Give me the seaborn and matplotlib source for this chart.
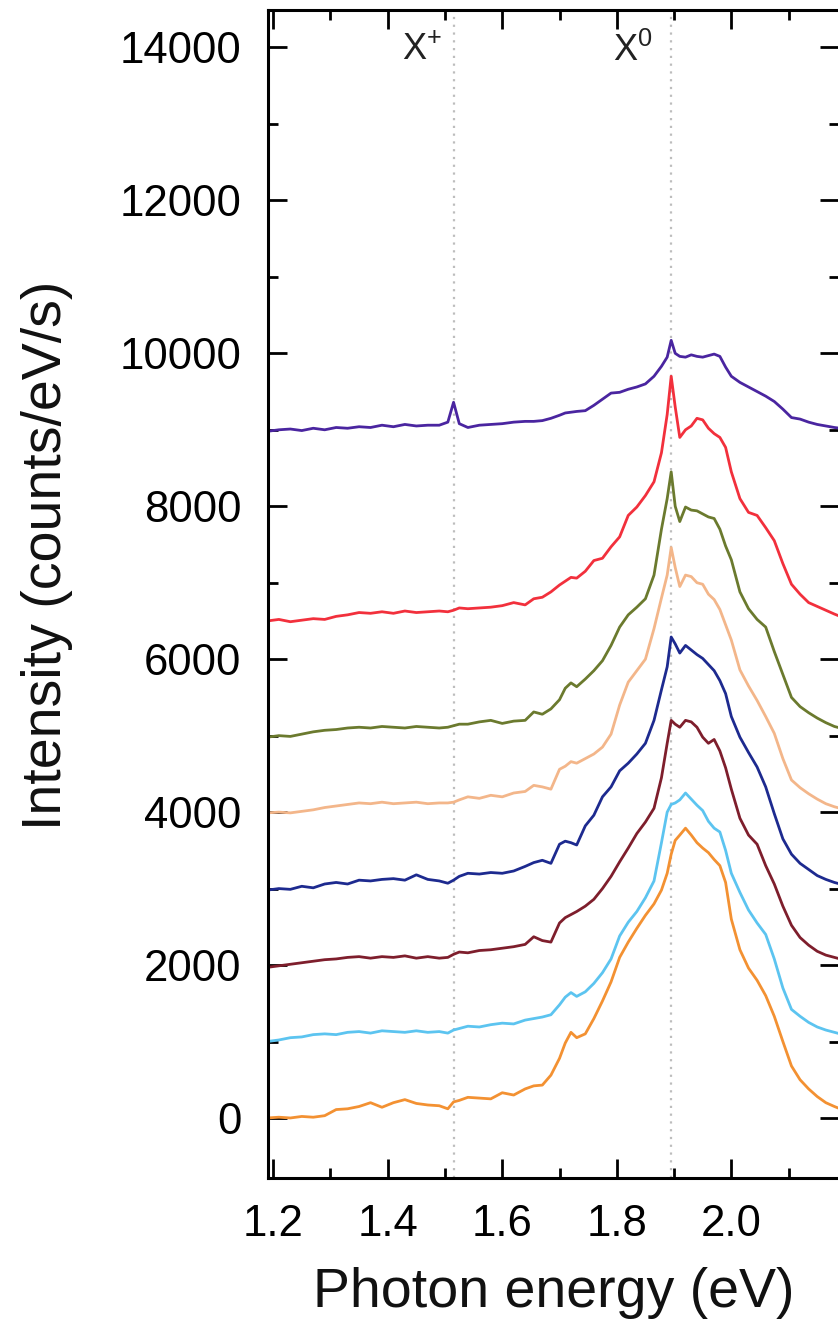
import matplotlib
matplotlib.use("Agg")
import numpy as np
import pandas as pd
import matplotlib.pyplot as plt
import seaborn as sns
from matplotlib.ticker import MultipleLocator

# ---------------- data ----------------
energy = [1.19, 1.21, 1.23, 1.25, 1.27, 1.29, 1.31, 1.33, 1.35, 1.37, 1.39, 1.41,
          1.43, 1.45, 1.47, 1.49, 1.505, 1.515, 1.525, 1.54, 1.56, 1.58, 1.60, 1.62,
          1.64, 1.655, 1.67, 1.685, 1.70, 1.71, 1.72, 1.73, 1.745, 1.76, 1.775, 1.79,
          1.805, 1.82, 1.835, 1.85, 1.865, 1.878, 1.888, 1.895, 1.902, 1.91, 1.92, 1.93,
          1.94, 1.95, 1.96, 1.97, 1.98, 1.99, 2.00, 2.015, 2.03, 2.045, 2.06, 2.075,
          2.09, 2.105, 2.12, 2.135, 2.15, 2.165, 2.18, 2.19]

trace_purple = [8980, 9000, 9010, 8990, 9020, 9000, 9030, 9020, 9040, 9030, 9060, 9040,
                9070, 9050, 9060, 9060, 9100, 9360, 9080, 9030, 9060, 9070, 9080, 9100,
                9110, 9110, 9120, 9150, 9190, 9220, 9230, 9240, 9250, 9320, 9400, 9480,
                9490, 9530, 9560, 9600, 9700, 9830, 9950, 10170, 10000, 9960, 9950, 9980,
                9960, 9950, 9970, 9990, 9960, 9820, 9700, 9620, 9560, 9500, 9440, 9370,
                9270, 9160, 9140, 9100, 9070, 9050, 9030, 9020]

trace_red = [6500, 6520, 6490, 6510, 6530, 6520, 6560, 6580, 6610, 6600, 6620, 6600,
             6630, 6610, 6620, 6630, 6620, 6640, 6670, 6660, 6670, 6680, 6700, 6740,
             6710, 6790, 6810, 6880, 6970, 7020, 7070, 7060, 7150, 7290, 7320, 7470,
             7600, 7880, 7990, 8140, 8320, 8700, 9200, 9700, 9300, 8900, 9000, 9050,
             9150, 9130, 9020, 8950, 8900, 8770, 8450, 8100, 7920, 7880, 7720, 7550,
             7250, 6980, 6850, 6740, 6690, 6640, 6590, 6560]

trace_olive = [4980, 5000, 4990, 5020, 5050, 5070, 5080, 5100, 5110, 5100, 5120, 5110,
               5100, 5120, 5110, 5100, 5110, 5130, 5150, 5150, 5180, 5200, 5160, 5190,
               5200, 5310, 5280, 5350, 5470, 5620, 5690, 5640, 5740, 5850, 5980, 6180,
               6420, 6580, 6680, 6790, 7100, 7700, 8100, 8450, 8000, 7800, 7990, 7950,
               7940, 7900, 7860, 7840, 7700, 7480, 7300, 6880, 6660, 6520, 6420, 6100,
               5800, 5500, 5380, 5300, 5230, 5170, 5120, 5100]

trace_peach = [3990, 4000, 3990, 4010, 4030, 4060, 4080, 4100, 4120, 4110, 4130, 4110,
               4120, 4130, 4110, 4120, 4120, 4130, 4160, 4200, 4180, 4220, 4200, 4250,
               4270, 4350, 4330, 4300, 4560, 4600, 4660, 4640, 4700, 4760, 4850, 5020,
               5400, 5700, 5850, 6000, 6400, 6800, 7100, 7460, 7200, 6950, 7100, 7080,
               7000, 6980, 6850, 6780, 6650, 6450, 6250, 5860, 5650, 5460, 5250, 5030,
               4700, 4420, 4320, 4240, 4170, 4110, 4070, 4050]

trace_navy = [2980, 3000, 2990, 3030, 3010, 3060, 3080, 3060, 3110, 3100, 3120, 3130,
              3110, 3180, 3120, 3100, 3070, 3110, 3160, 3200, 3190, 3210, 3200, 3230,
              3290, 3340, 3370, 3330, 3580, 3620, 3600, 3570, 3820, 3960, 4200, 4330,
              4540, 4640, 4760, 4900, 5200, 5600, 5900, 6290, 6200, 6080, 6180, 6120,
              6060, 6010, 5930, 5850, 5720, 5550, 5250, 4980, 4780, 4590, 4330, 3980,
              3650, 3450, 3330, 3250, 3170, 3120, 3080, 3060]

trace_maroon = [1970, 1990, 2010, 2030, 2050, 2070, 2080, 2100, 2110, 2090, 2110, 2100,
                2120, 2090, 2110, 2090, 2100, 2140, 2170, 2160, 2190, 2200, 2220, 2240,
                2270, 2370, 2320, 2300, 2550, 2620, 2660, 2700, 2770, 2860, 3000, 3160,
                3350, 3530, 3720, 3870, 4050, 4450, 4900, 5200, 5150, 5110, 5200, 5180,
                5110, 4980, 4900, 4950, 4800, 4580, 4300, 3920, 3700, 3580, 3300, 3060,
                2770, 2520, 2360, 2260, 2180, 2130, 2100, 2080]

trace_lightblue = [1000, 1020, 1050, 1060, 1090, 1100, 1090, 1120, 1130, 1110, 1140, 1130,
                   1120, 1140, 1120, 1130, 1110, 1150, 1170, 1200, 1190, 1220, 1240, 1230,
                   1280, 1300, 1320, 1350, 1480, 1580, 1640, 1590, 1650, 1760, 1900, 2080,
                   2380, 2560, 2700, 2880, 3100, 3600, 4000, 4100, 4120, 4160, 4250, 4170,
                   4090, 4020, 3880, 3790, 3740, 3500, 3200, 2950, 2720, 2550, 2400, 2080,
                   1700, 1420, 1330, 1250, 1190, 1150, 1120, 1100]

trace_orange = [0, 10, 0, 20, 10, 30, 110, 120, 150, 200, 140, 200,
                240, 190, 170, 160, 120, 210, 230, 270, 260, 250, 330, 300,
                380, 420, 430, 560, 780, 980, 1120, 1050, 1100, 1300, 1530, 1780,
                2100, 2300, 2480, 2650, 2800, 2980, 3200, 3450, 3630, 3700, 3790, 3700,
                3600, 3530, 3470, 3380, 3300, 3080, 2600, 2200, 1960, 1800, 1600, 1330,
                1000, 680, 500, 380, 280, 200, 150, 120]

trace_names = ["purple", "red", "olive", "peach", "navy", "maroon", "lightblue", "orange"]
trace_values = [trace_purple, trace_red, trace_olive, trace_peach, trace_navy,
                trace_maroon, trace_lightblue, trace_orange]
trace_colors = ["#4a25a0", "#f2303c", "#6b7a2e", "#f3b68a", "#1d2a8f", "#7e1e2c",
                "#5cc4f0", "#f39132"]

marker_energy = [1.515, 1.895]
marker_labels = ["X$^{+}$", "X$^{0}$"]

x_ticks = [1.2, 1.4, 1.6, 1.8, 2.0]
y_ticks = [0, 2000, 4000, 6000, 8000, 10000, 12000, 14000]

# ---------------- figure ----------------
sns.set_theme(style="ticks")
plt.rcParams["font.family"] = ["Liberation Sans", "DejaVu Sans"]
plt.rcParams["mathtext.fontset"] = "custom"
plt.rcParams["mathtext.rm"] = "Liberation Sans"
plt.rcParams["mathtext.default"] = "regular"

W, H = 838, 1327
fig = plt.figure(figsize=(W / 100, H / 100), dpi=100)
fig.patch.set_facecolor("white")
ax = fig.add_axes([268 / W, 1 - 1178 / H, (839 - 268) / W, (1178 - 10) / H])
ax.set_facecolor("white")

frames = []
for name, vals in zip(trace_names, trace_values):
    frames.append(pd.DataFrame({"energy": energy, "intensity": vals, "trace": name}))
df = pd.concat(frames, ignore_index=True)
palette = dict(zip(trace_names, trace_colors))

for xm in marker_energy:
    ax.axvline(xm, color="#bdbdbd", ls=(0, (1, 2.5)), lw=1.6, zorder=0)

sns.lineplot(data=df, x="energy", y="intensity", hue="trace", palette=palette,
             hue_order=trace_names, estimator=None, sort=False, lw=2.0,
             legend=False, ax=ax)

ax.set_xlim(1.191, 2.188)
ax.set_ylim(-785, 14490)
ax.set_xticks(x_ticks)
ax.set_xticklabels([f"{v:.1f}" for v in x_ticks])
ax.set_yticks(y_ticks)
ax.set_yticklabels([str(v) for v in y_ticks])
ax.xaxis.set_minor_locator(MultipleLocator(0.1))
ax.yaxis.set_minor_locator(MultipleLocator(1000))

ax.tick_params(which="both", direction="in", top=True, right=True,
               colors="black", width=2.0)
ax.tick_params(which="major", length=14, labelsize=31.5, pad=19)
ax.tick_params(which="minor", length=7)

for side in ["left", "bottom", "top"]:
    ax.spines[side].set_linewidth(2.2)
    ax.spines[side].set_color("black")
ax.spines["right"].set_visible(False)

ax.set_xlabel("Photon energy (eV)", fontsize=40, color="#111111")
ax.xaxis.label.set_va("center")
ax.xaxis.set_label_coords(0.5, -0.0985)
ax.set_ylabel("Intensity (counts/eV/s)", fontsize=40, color="#111111")
ax.yaxis.label.set_va("center")
ax.yaxis.set_label_coords(-0.387, 0.533)

label_pos = [(1.46, 13960), (1.828, 13960)]
for (tx, ty), lab in zip(label_pos, marker_labels):
    ax.text(tx, ty, lab, fontsize=26, ha="center", va="center", color="#222222")

fig.savefig("out.png", dpi=100, facecolor="white")
